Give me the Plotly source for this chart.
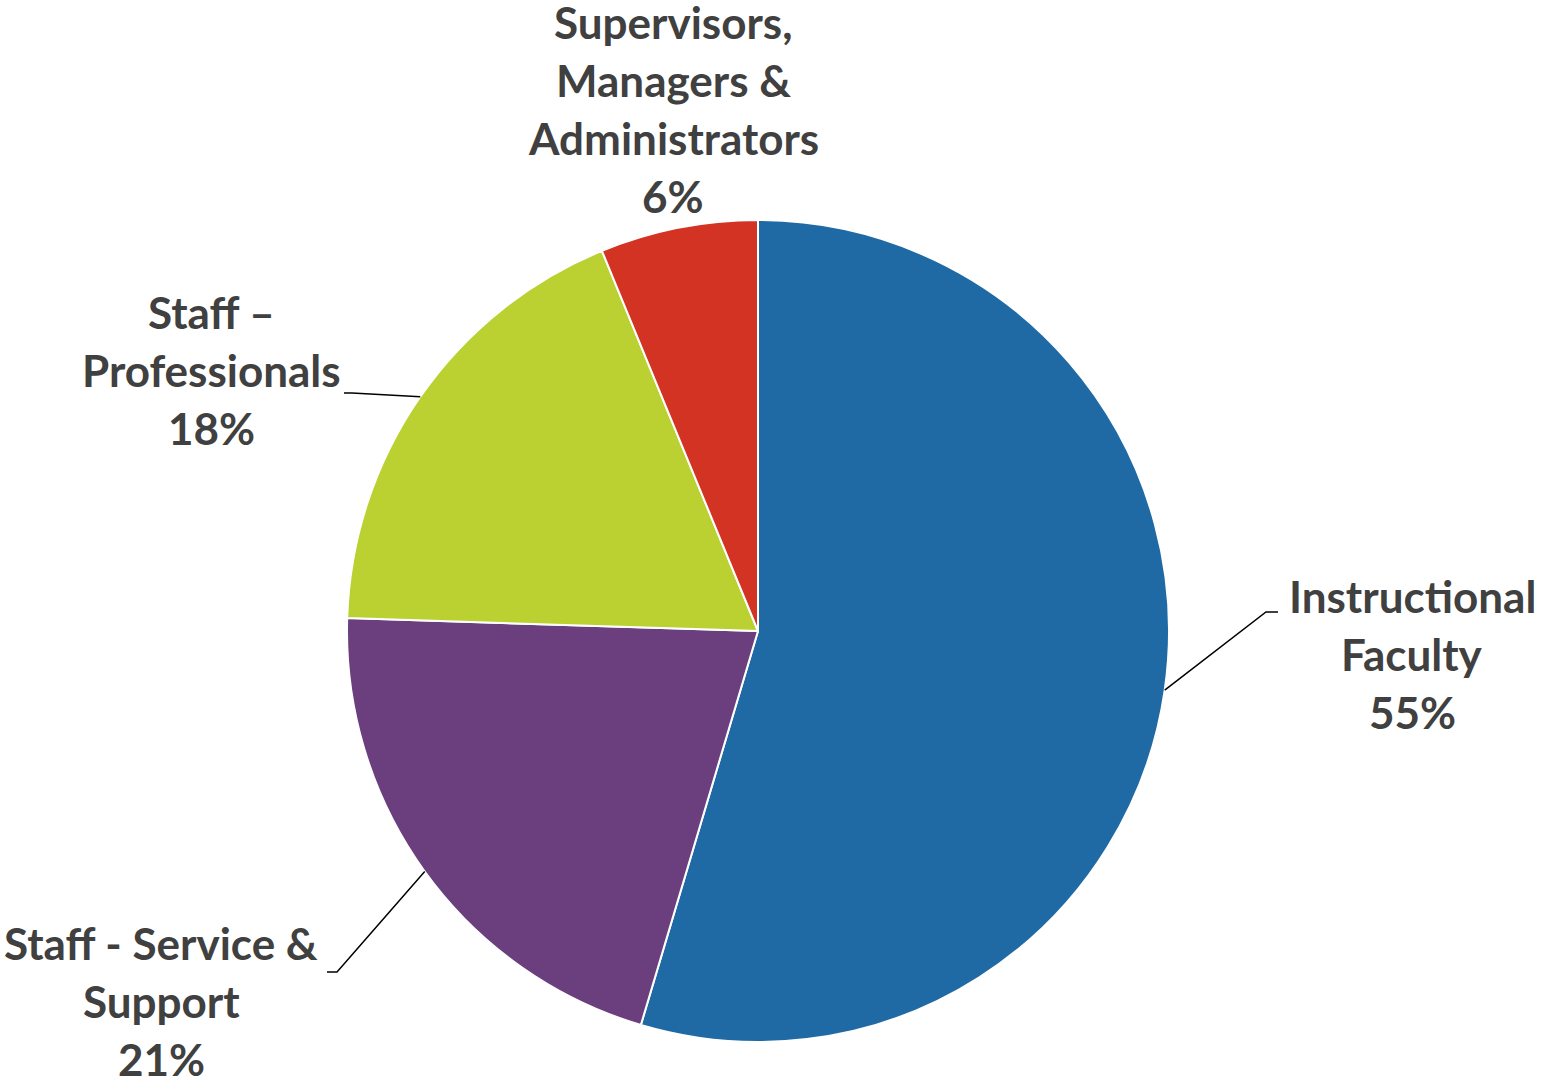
import math
import plotly.graph_objects as go

# ---- data ----
categories = ["Instructional Faculty", "Staff - Service & Support", "Staff \u2013 Professionals",
              "Supervisors, Managers & Administrators"]
label_lines = [["Instructional", "Faculty"], ["Staff - Service &", "Support"],
               ["Staff \u2013", "Professionals"], ["Supervisors,", "Managers &", "Administrators"]]
values = [54.6, 20.9, 18.3, 6.2]
colors = ["#1F6AA5", "#6B3E7E", "#BBD131", "#D33323"]

# ---- layout constants (pixels) ----
W, H = 1543, 1078
CX, CY, R = 758, 631, 411
TEXT_COLOR = "#404040"
FONT = "Lato"
FSIZE = 44
LINE_GAP = 58
# label centre (x, y of first line) and leader elbow/end points
label_pos = [(1412, 596), (161, 943), (211, 312), (673, 22)]
leaders = [((1266, 612), (1278, 612)), ((337, 972), (327, 972)), ((352, 393), (344, 393)), None]

fig = go.Figure(go.Pie(
    labels=categories, values=values, sort=False, direction="clockwise", rotation=0,
    marker=dict(colors=colors, line=dict(color="white", width=2)),
    textinfo="none", hoverinfo="label+percent", showlegend=False,
    domain=dict(x=[(CX - R) / W, (CX + R) / W], y=[1 - (CY + R) / H, 1 - (CY - R) / H]),
))

def px(x, y):
    return x / W, 1 - y / H

total = sum(values)
cum = 0
annotations, shapes = [], []
for i, v in enumerate(values):
    mid = (cum + v / 2) / total * 2 * math.pi
    cum += v
    pct = f"{round(v / total * 100)}%"
    lines = label_lines[i] + [pct]
    lx, ly = label_pos[i]
    for j, t in enumerate(lines):
        x, y = px(lx, ly + j * LINE_GAP)
        annotations.append(dict(x=x, y=y, xref="paper", yref="paper", text=f"<b>{t}</b>",
                                showarrow=False, xanchor="center", yanchor="middle",
                                font=dict(family=FONT, size=FSIZE, color=TEXT_COLOR)))
    if leaders[i] is not None:
        sx, sy = CX + R * math.sin(mid), CY - R * math.cos(mid)
        (ex, ey), (fx, fy) = leaders[i]
        pts = [px(sx, sy), px(ex, ey), px(fx, fy)]
        path = "M {} {} L {} {} L {} {}".format(*[c for p in pts for c in p])
        shapes.append(dict(type="path", path=path, xref="paper", yref="paper",
                           line=dict(color="black", width=1.5)))

fig.update_layout(width=W, height=H, margin=dict(l=0, r=0, t=0, b=0),
                  paper_bgcolor="white", plot_bgcolor="white",
                  annotations=annotations, shapes=shapes)
fig.write_html("out.html")
